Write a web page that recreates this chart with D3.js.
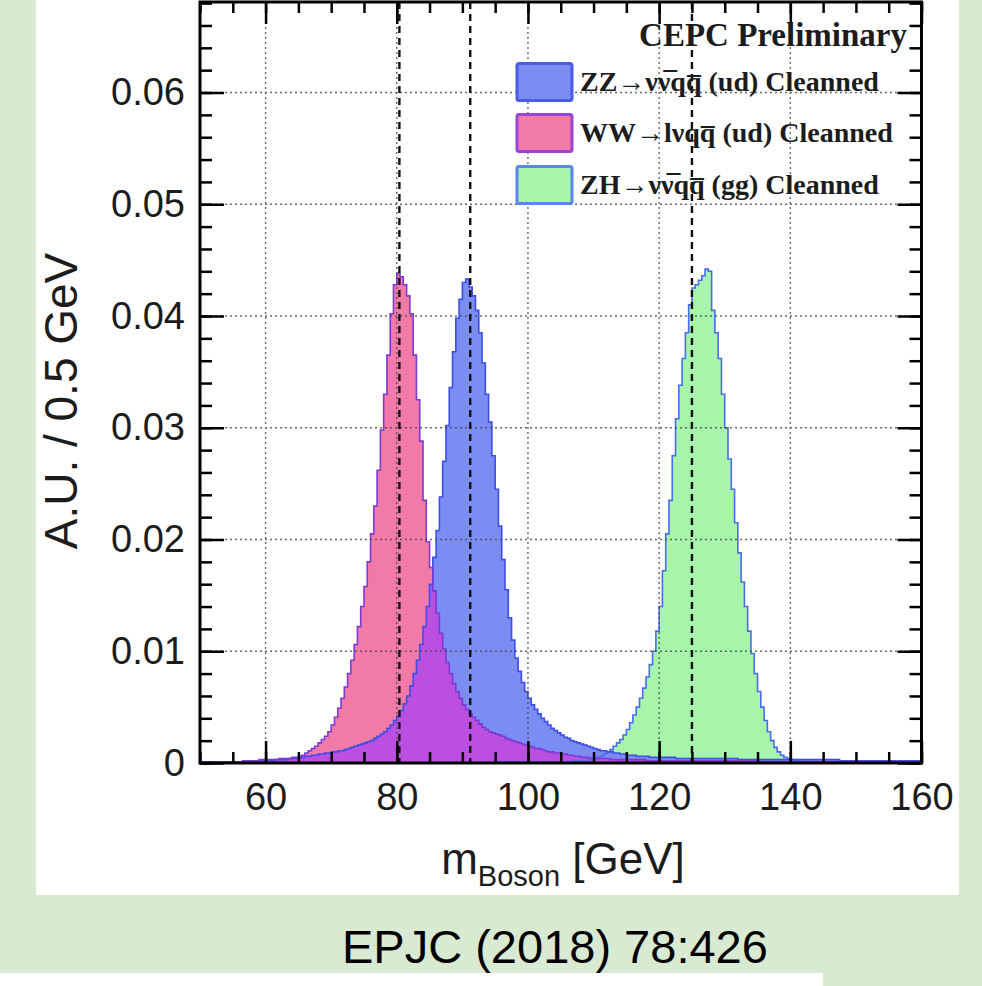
<!DOCTYPE html>
<html>
<head>
<meta charset="utf-8">
<script src="https://d3js.org/d3.v7.min.js"></script>
<style>
body { margin: 0; background: #d9ead3; }
svg { display: block; }
</style>
</head>
<body>
<script>
// 0.5 GeV wide bins, low edges 50 .. 159.5 (one row = 5 GeV)
var binLow = d3.range(50, 160, 0.5);

var zzValues = [
  0.0001,0.0001,0.0001,0.0001,0.0001,0.0001,0.0001,0.0001,0.0001,0.0001,
  0.0001,0.0001,0.0001,0.0001,0.0002,0.0002,0.0002,0.0002,0.0002,0.0002,
  0.0002,0.0002,0.0002,0.0003,0.0003,0.0003,0.0003,0.0004,0.0004,0.0004,
  0.0005,0.0005,0.0006,0.0006,0.0007,0.0007,0.0008,0.0008,0.0009,0.0009,
  0.0010,0.0010,0.0011,0.0011,0.0012,0.0013,0.0014,0.0015,0.0016,0.0017,
  0.0018,0.0019,0.0020,0.0022,0.0024,0.0026,0.0028,0.0031,0.0034,0.0038,
  0.0042,0.0047,0.0053,0.0060,0.0069,0.0080,0.0092,0.0106,0.0122,0.0140,
  0.0160,0.0184,0.0208,0.0238,0.0270,0.0302,0.0336,0.0368,0.0398,0.0415,
  0.0430,0.0433,0.0426,0.0418,0.0405,0.0385,0.0358,0.0330,0.0305,0.0275,
  0.0245,0.0212,0.0182,0.0155,0.0130,0.0110,0.0094,0.0082,0.0072,0.0064,
  0.0058,0.0052,0.0048,0.0044,0.0040,0.0037,0.0034,0.0031,0.0029,0.0027,
  0.0025,0.0023,0.0022,0.0020,0.0019,0.0018,0.0017,0.0016,0.0015,0.0014,
  0.0013,0.0012,0.0011,0.0011,0.0010,0.0010,0.0009,0.0009,0.0008,0.0008,
  0.0007,0.0007,0.0007,0.0006,0.0006,0.0006,0.0006,0.0005,0.0005,0.0005,
  0.0005,0.0005,0.0005,0.0005,0.0005,0.0004,0.0004,0.0004,0.0004,0.0004,
  0.0004,0.0004,0.0004,0.0004,0.0004,0.0004,0.0004,0.0004,0.0004,0.0004,
  0.0004,0.0004,0.0004,0.0004,0.0003,0.0003,0.0003,0.0003,0.0003,0.0003,
  0.0003,0.0003,0.0003,0.0003,0.0003,0.0003,0.0003,0.0003,0.0003,0.0003,
  0.0003,0.0003,0.0003,0.0003,0.0003,0.0003,0.0003,0.0003,0.0003,0.0003,
  0.0003,0.0003,0.0003,0.0003,0.0003,0.0002,0.0002,0.0002,0.0002,0.0002,
  0.0002,0.0002,0.0002,0.0002,0.0002,0.0002,0.0002,0.0002,0.0002,0.0002,
  0.0002,0.0002,0.0002,0.0002,0.0002,0.0002,0.0002,0.0002,0.0002,0.0002
];

var wwValues = [
  0.0001,0.0001,0.0001,0.0001,0.0001,0.0001,0.0001,0.0001,0.0001,0.0001,
  0.0001,0.0001,0.0001,0.0002,0.0002,0.0002,0.0002,0.0002,0.0003,0.0003,
  0.0003,0.0003,0.0003,0.0003,0.0004,0.0004,0.0004,0.0004,0.0005,0.0005,
  0.0006,0.0007,0.0009,0.0011,0.0013,0.0015,0.0018,0.0021,0.0024,0.0028,
  0.0034,0.0041,0.0049,0.0058,0.0068,0.0080,0.0092,0.0106,0.0122,0.0140,
  0.0158,0.0180,0.0205,0.0230,0.0262,0.0298,0.0330,0.0365,0.0402,0.0428,
  0.0438,0.0435,0.0428,0.0418,0.0402,0.0365,0.0325,0.0288,0.0235,0.0198,
  0.0175,0.0154,0.0134,0.0116,0.0102,0.0090,0.0080,0.0071,0.0064,0.0058,
  0.0052,0.0048,0.0044,0.0041,0.0038,0.0035,0.0032,0.0030,0.0028,0.0027,
  0.0026,0.0025,0.0024,0.0022,0.0021,0.0020,0.0019,0.0018,0.0017,0.0016,
  0.0015,0.0014,0.0013,0.0013,0.0012,0.0011,0.0010,0.0010,0.0009,0.0009,
  0.0008,0.0008,0.0007,0.0007,0.0006,0.0006,0.0005,0.0005,0.0005,0.0004,
  0.0004,0.0004,0.0004,0.0004,0.0004,0.0003,0.0003,0.0003,0.0003,0.0003,
  0.0003,0.0003,0.0003,0.0003,0.0003,0.0003,0.0002,0.0002,0.0002,0.0002,
  0.0002,0.0002,0.0002,0.0002,0.0002,0.0002,0.0002,0.0002,0.0002,0.0002,
  0.0002,0.0002,0.0002,0.0002,0.0002,0.0002,0.0002,0.0002,0.0002,0.0002,
  0.0002,0.0002,0.0002,0.0002,0.0002,0.0002,0.0002,0.0002,0.0002,0.0002,
  0.0001,0.0001,0.0001,0.0001,0.0001,0.0001,0.0001,0.0001,0.0001,0.0001,
  0.0001,0.0001,0.0001,0.0001,0.0001,0.0001,0.0001,0.0001,0.0001,0.0001,
  0.0001,0.0001,0.0001,0.0001,0.0001,0.0001,0.0001,0.0001,0.0001,0.0001,
  0.0001,0.0001,0.0001,0.0001,0.0001,0.0001,0.0001,0.0001,0.0001,0.0001,
  0.0001,0.0001,0.0001,0.0001,0.0001,0.0001,0.0001,0.0001,0.0001,0.0001
];

var zhValues = [
  0.0000,0.0000,0.0000,0.0000,0.0000,0.0000,0.0000,0.0000,0.0000,0.0000,
  0.0000,0.0000,0.0000,0.0000,0.0000,0.0000,0.0000,0.0000,0.0000,0.0000,
  0.0000,0.0000,0.0000,0.0000,0.0000,0.0000,0.0000,0.0000,0.0000,0.0000,
  0.0000,0.0000,0.0000,0.0000,0.0000,0.0000,0.0000,0.0000,0.0000,0.0000,
  0.0000,0.0000,0.0000,0.0000,0.0000,0.0000,0.0000,0.0000,0.0000,0.0000,
  0.0000,0.0000,0.0000,0.0000,0.0000,0.0000,0.0000,0.0000,0.0000,0.0000,
  0.0000,0.0000,0.0000,0.0000,0.0000,0.0000,0.0000,0.0000,0.0000,0.0000,
  0.0000,0.0000,0.0000,0.0000,0.0000,0.0000,0.0000,0.0000,0.0000,0.0000,
  0.0000,0.0000,0.0000,0.0000,0.0000,0.0000,0.0000,0.0000,0.0000,0.0000,
  0.0001,0.0001,0.0001,0.0001,0.0001,0.0001,0.0001,0.0001,0.0001,0.0001,
  0.0001,0.0001,0.0001,0.0001,0.0001,0.0001,0.0001,0.0001,0.0001,0.0001,
  0.0001,0.0001,0.0001,0.0001,0.0002,0.0002,0.0002,0.0002,0.0003,0.0003,
  0.0004,0.0005,0.0006,0.0008,0.0010,0.0012,0.0015,0.0018,0.0021,0.0025,
  0.0030,0.0036,0.0043,0.0050,0.0058,0.0067,0.0077,0.0088,0.0100,0.0118,
  0.0140,0.0172,0.0205,0.0235,0.0275,0.0308,0.0338,0.0362,0.0385,0.0410,
  0.0425,0.0428,0.0432,0.0436,0.0442,0.0440,0.0405,0.0385,0.0362,0.0330,
  0.0300,0.0272,0.0245,0.0215,0.0188,0.0162,0.0140,0.0118,0.0098,0.0080,
  0.0064,0.0050,0.0038,0.0028,0.0020,0.0014,0.0010,0.0007,0.0005,0.0004,
  0.0003,0.0002,0.0002,0.0001,0.0001,0.0001,0.0001,0.0001,0.0001,0.0001,
  0.0001,0.0001,0.0001,0.0001,0.0001,0.0001,0.0001,0.0001,0.0001,0.0001,
  0.0001,0.0001,0.0001,0.0001,0.0001,0.0001,0.0001,0.0001,0.0001,0.0001,
  0.0001,0.0001,0.0001,0.0001,0.0001,0.0001,0.0001,0.0001,0.0001,0.0001
];

var xTicks = [60, 80, 100, 120, 140, 160];
var xMinor = d3.range(50, 161, 5);
var yTicks = [0, 0.01, 0.02, 0.03, 0.04, 0.05, 0.06];
var yMinor = d3.range(0, 0.0681, 0.002);
var refMasses = [80.4, 91.2, 125];

// combining overline marks the antiparticles
var legendLabels = [
  "ZZ\u2192\u03bd\u03bd\u0305qq\u0305 (ud) Cleanned",
  "WW\u2192l\u03bdqq\u0305 (ud) Cleanned",
  "ZH\u2192\u03bd\u03bd\u0305qq\u0305 (gg) Cleanned"
];
var legendFill = ["#7b8cf2", "#f27aa8", "#a6f5ab"];
var legendStroke = ["#4a5be8", "#9a45d6", "#5b86ee"];

var W = 982, H = 986;
var plotL = 200, plotR = 921.5, plotT = 2, plotB = 763;

var svg = d3.select("body").append("svg")
    .attr("width", W)
    .attr("height", H);

svg.append("rect").attr("width", W).attr("height", H).attr("fill", "#d9ead3");
svg.append("rect").attr("x", 36).attr("y", 0).attr("width", 923).attr("height", 895).attr("fill", "#fff");
svg.append("rect").attr("x", 0).attr("y", 973).attr("width", 823).attr("height", 13).attr("fill", "#fff");

var x = d3.scaleLinear().domain([50, 160]).range([plotL, plotR]);
var y = d3.scaleLinear().domain([0, 0.0681]).range([plotB, plotT]);

function pts(vals) {
    var p = binLow.map(function(b, i) { return {x: b, v: vals[i]}; });
    p.push({x: 160, v: vals[vals.length - 1]});
    return p;
}

var area = d3.area()
    .curve(d3.curveStepAfter)
    .x(function(d) { return x(d.x); })
    .y0(y(0))
    .y1(function(d) { return y(d.v); });

var line = d3.line()
    .curve(d3.curveStepAfter)
    .x(function(d) { return x(d.x); })
    .y(function(d) { return y(d.v); });

var overlap = zzValues.map(function(v, i) { return Math.min(v, wwValues[i]); });

var plot = svg.append("g");
plot.append("path").datum(pts(zhValues)).attr("d", area).attr("fill", "#a6f5ab");
plot.append("path").datum(pts(zzValues)).attr("d", area).attr("fill", "#7b8cf2");
plot.append("path").datum(pts(wwValues)).attr("d", area).attr("fill", "#f27aa8");
plot.append("path").datum(pts(overlap)).attr("d", area).attr("fill", "#bb4fe2");

plot.append("path").datum(pts(zhValues)).attr("d", line)
    .attr("fill", "none").attr("stroke", "#4a6cec").attr("stroke-width", 1.6);
plot.append("path").datum(pts(zzValues)).attr("d", line)
    .attr("fill", "none").attr("stroke", "#3c4ee4").attr("stroke-width", 1.6);
plot.append("path").datum(pts(wwValues)).attr("d", line)
    .attr("fill", "none").attr("stroke", "#7b3ad6").attr("stroke-width", 1.6);

// grid
var grid = svg.append("g")
    .attr("stroke", "#444")
    .attr("stroke-width", 1.4)
    .attr("stroke-dasharray", "2,3")
    .attr("opacity", 0.8);
grid.selectAll(".gx").data(xTicks.slice(0, -1)).enter().append("line")
    .attr("x1", function(d) { return x(d); }).attr("x2", function(d) { return x(d); })
    .attr("y1", plotT).attr("y2", plotB);
grid.selectAll(".gy").data(yTicks.slice(1)).enter().append("line")
    .attr("x1", plotL).attr("x2", plotR)
    .attr("y1", function(d) { return y(d); }).attr("y2", function(d) { return y(d); });

// reference masses
svg.append("g").selectAll("line").data(refMasses).enter().append("line")
    .attr("x1", function(d) { return x(d); }).attr("x2", function(d) { return x(d); })
    .attr("y1", plotT).attr("y2", plotB)
    .attr("stroke", "#111").attr("stroke-width", 2.4)
    .attr("stroke-dasharray", "7,5");

// axes
var fmtY = function(d) { return d === 0 ? "0" : d3.format(".2f")(d); };

function styleAxis(g) {
    g.select(".domain").remove();
    g.selectAll(".tick line").attr("stroke", "#000").attr("stroke-width", 2.5);
    g.selectAll("text")
        .attr("fill", "#1c1c1c")
        .style("font-family", "'Liberation Sans', Arial, sans-serif")
        .style("font-size", "38px");
}

svg.append("g").attr("transform", "translate(0," + plotB + ")")
    .call(d3.axisBottom(x).tickValues(xMinor).tickSize(-11).tickFormat(""))
    .call(styleAxis);
svg.append("g").attr("transform", "translate(0," + plotB + ")")
    .call(d3.axisBottom(x).tickValues(xTicks).tickSize(-22).tickPadding(20).tickFormat(d3.format("d")))
    .call(styleAxis);
svg.append("g").attr("transform", "translate(0," + plotT + ")")
    .call(d3.axisTop(x).tickValues(xMinor).tickSize(-11).tickFormat(""))
    .call(styleAxis);
svg.append("g").attr("transform", "translate(0," + plotT + ")")
    .call(d3.axisTop(x).tickValues(xTicks).tickSize(-22).tickFormat(""))
    .call(styleAxis);

svg.append("g").attr("transform", "translate(" + plotL + ",0)")
    .call(d3.axisLeft(y).tickValues(yMinor).tickSize(-12).tickFormat(""))
    .call(styleAxis);
svg.append("g").attr("transform", "translate(" + plotL + ",0)")
    .call(d3.axisLeft(y).tickValues(yTicks).tickSize(-24).tickPadding(15).tickFormat(fmtY))
    .call(styleAxis);
svg.append("g").attr("transform", "translate(" + plotR + ",0)")
    .call(d3.axisRight(y).tickValues(yMinor).tickSize(-12).tickFormat(""))
    .call(styleAxis);
svg.append("g").attr("transform", "translate(" + plotR + ",0)")
    .call(d3.axisRight(y).tickValues(yTicks).tickSize(-24).tickFormat(""))
    .call(styleAxis);

svg.append("rect")
    .attr("x", plotL).attr("y", plotT)
    .attr("width", plotR - plotL).attr("height", plotB - plotT)
    .attr("fill", "none").attr("stroke", "#000").attr("stroke-width", 3);

// axis titles
svg.append("text")
    .attr("transform", "translate(77,401) rotate(-90)")
    .attr("text-anchor", "middle")
    .style("font-family", "'Liberation Sans', Arial, sans-serif")
    .style("font-size", "46px")
    .attr("fill", "#1c1c1c")
    .text("A.U. / 0.5 GeV");

var xt = svg.append("text")
    .attr("x", 563).attr("y", 874)
    .attr("text-anchor", "middle")
    .style("font-family", "'Liberation Sans', Arial, sans-serif")
    .style("font-size", "44px")
    .attr("fill", "#1c1c1c");
xt.append("tspan").text("m");
xt.append("tspan").attr("dy", 12).style("font-size", "29px").text("Boson");
xt.append("tspan").attr("dy", -12).text(" [GeV]");

// legend
svg.append("text")
    .attr("x", 907).attr("y", 46)
    .attr("text-anchor", "end")
    .style("font-family", "'Liberation Serif', 'Times New Roman', serif")
    .style("font-weight", "bold")
    .style("font-size", "33px")
    .attr("fill", "#1c1c1c")
    .text("CEPC Preliminary");

var legendY = [82, 133, 185];
legendLabels.forEach(function(lab, i) {
    svg.append("rect")
        .attr("x", 517).attr("y", legendY[i] - 18.5)
        .attr("width", 55).attr("height", 37).attr("rx", 2)
        .attr("fill", legendFill[i])
        .attr("stroke", legendStroke[i]).attr("stroke-width", 3);
    svg.append("text")
        .attr("x", 580).attr("y", legendY[i] + 9)
        .style("font-family", "'Liberation Serif', 'DejaVu Serif', serif")
        .style("font-weight", "bold")
        .style("font-size", "28px")
        .attr("fill", "#1c1c1c")
        .text(lab);
});

// citation
svg.append("text")
    .attr("x", 342).attr("y", 963)
    .style("font-family", "'Liberation Sans', Arial, sans-serif")
    .style("font-size", "47px")
    .attr("fill", "#000")
    .text("EPJC (2018) 78:426");
</script>
</body>
</html>
